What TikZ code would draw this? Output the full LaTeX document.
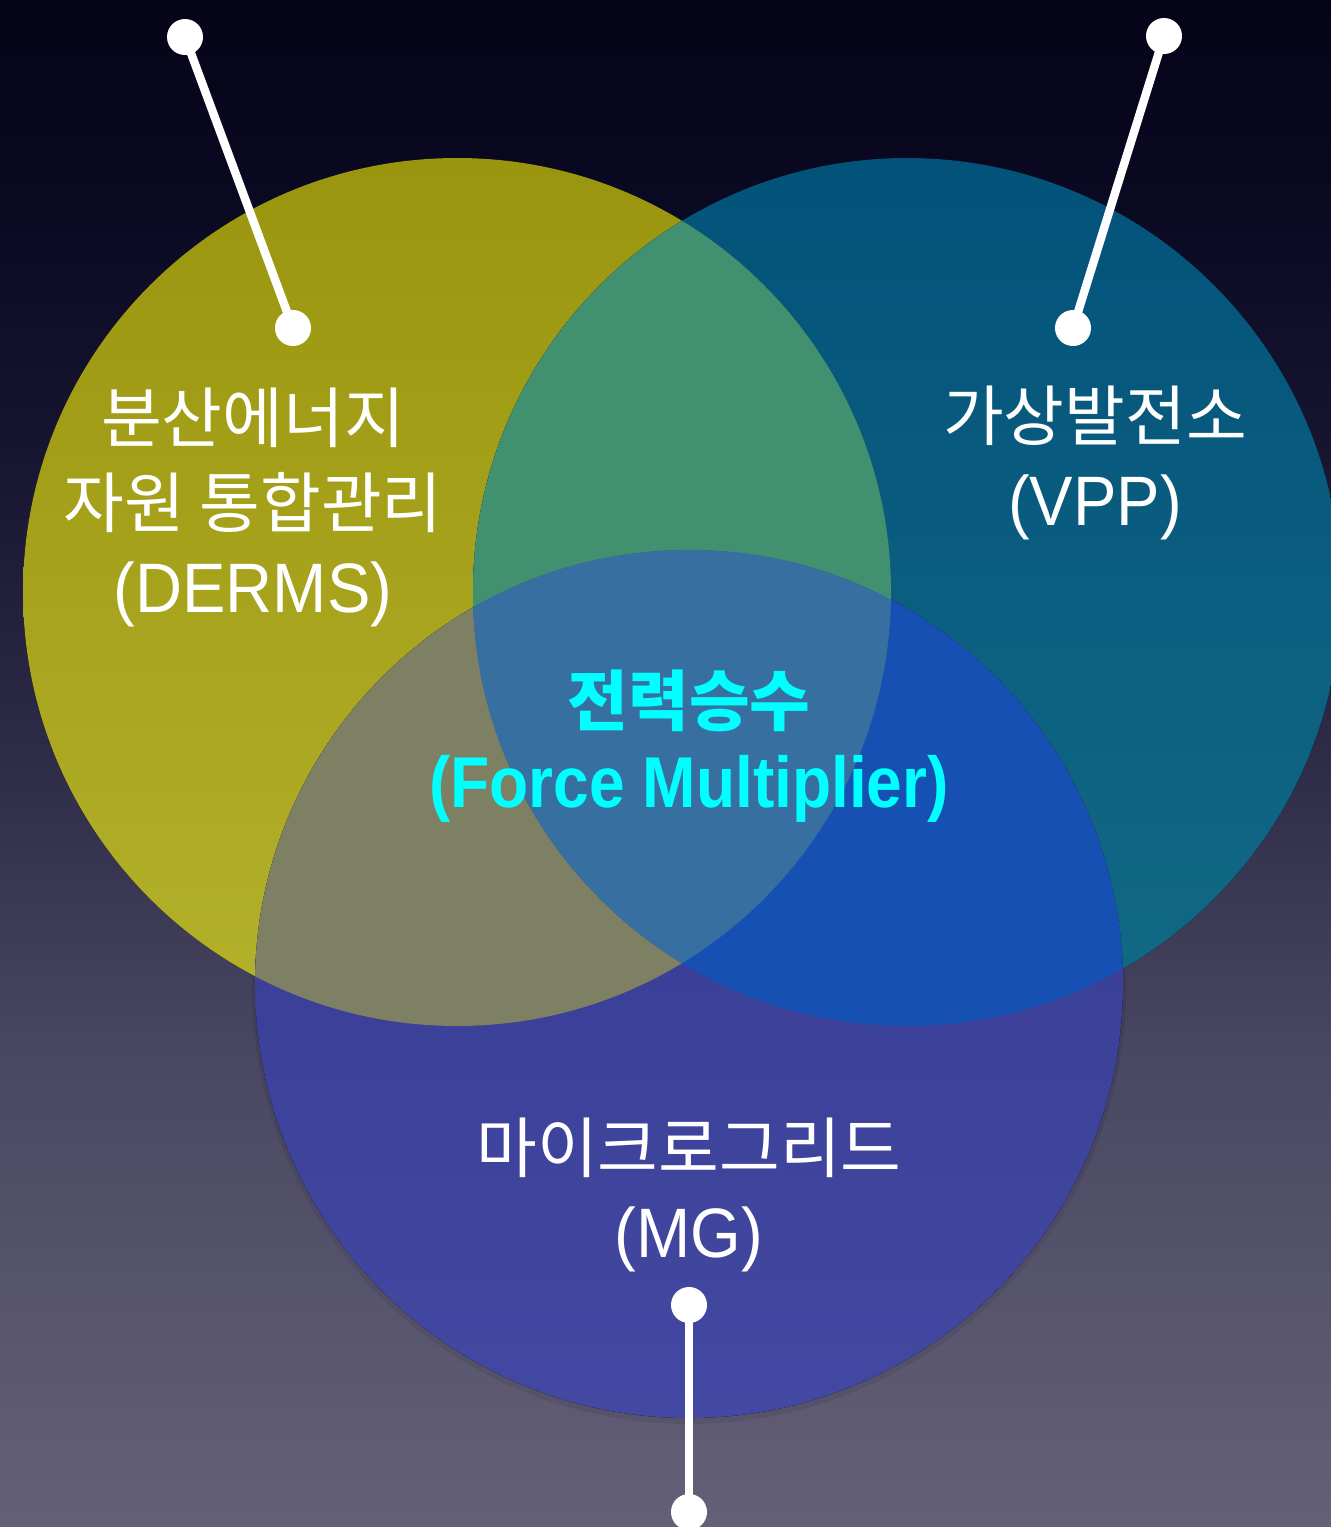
\documentclass[tikz,border=0pt]{standalone}
\usepackage{fontspec}
\newfontfamily\kr{Noto Sans CJK KR}
\newfontfamily\lat[FakeStretch=0.93]{Liberation Sans}
\newfontfamily\latb[FakeStretch=0.89]{Liberation Sans Bold}
\definecolor{bgtop}{HTML}{050418}
\definecolor{bgm1}{HTML}{0A0922}
\definecolor{bgm2}{HTML}{171530}
\definecolor{bgm3}{HTML}{2E2C48}
\definecolor{bgm4}{HTML}{4A4862}
\definecolor{bgbot}{HTML}{646078}
\definecolor{ytop}{HTML}{9A950F}
\definecolor{ybot}{HTML}{B4B12A}
\definecolor{ttop}{HTML}{03527A}
\definecolor{tbot}{HTML}{126A85}
\definecolor{btop}{HTML}{33368E}
\definecolor{bbot}{HTML}{4349A2}
\definecolor{yt}{HTML}{41906F}
\definecolor{yb}{HTML}{7E8063}
\definecolor{tb}{HTML}{1550B2}
\definecolor{ytb}{HTML}{3770A0}
\definecolor{accent}{HTML}{00FFFF}
\pgfdeclareverticalshading{bgshade}{100bp}{color(0bp)=(bgbot); color(25bp)=(bgbot); color(40bp)=(bgm4); color(50bp)=(bgm3); color(60bp)=(bgm2); color(68.5bp)=(bgm1); color(75bp)=(bgtop); color(100bp)=(bgtop)}
\tikzset{
  dot/.style={circle, fill=white, minimum size=18pt, inner sep=0pt},
  conn/.style={draw=white, line width=4.2pt},
  wtxt/.style={text=white, anchor=base, inner sep=0pt},
  ctxt/.style={text=accent, anchor=base, inner sep=0pt},
  krtxt/.style={font=\kr\fontsize{33pt}{38pt}\selectfont},
  lattxt/.style={font=\lat\fontsize{35pt}{40pt}\selectfont},
}
\begin{document}
\begin{tikzpicture}[x=0.5pt,y=0.5pt]
\useasboundingbox (0,0) rectangle (1331,-1527);
\shade[shading=bgshade] (0,0) rectangle (1331,-1527);
% circles
\coordinate (Y) at (457,-592);
\coordinate (T) at (907,-592);
\coordinate (B) at (689,-984);
\fill[black, opacity=0.07] (B) ++(0,-3) circle[radius=218.5pt];
\fill[top color=ytop, bottom color=ybot] (Y) circle[radius=217pt];
\fill[top color=ttop, bottom color=tbot] (T) circle[radius=217pt];
\fill[top color=btop, bottom color=bbot] (B) circle[radius=217pt];
% overlaps
\begin{scope}
  \clip (Y) circle[radius=217pt];
  \fill[yt] (T) circle[radius=217pt];
  \fill[yb] (B) circle[radius=217pt];
\end{scope}
\begin{scope}
  \clip (T) circle[radius=217pt];
  \fill[tb] (B) circle[radius=217pt];
\end{scope}
\begin{scope}
  \clip (Y) circle[radius=217pt];
  \clip (T) circle[radius=217pt];
  \fill[ytb] (B) circle[radius=217pt];
\end{scope}
% connectors
\node[dot] (d1a) at (185,-37) {};
\node[dot] (d1b) at (293,-328) {};
\node[dot] (d2a) at (1164,-36) {};
\node[dot] (d2b) at (1073,-328) {};
\node[dot] (d3a) at (689,-1305) {};
\node[dot] (d3b) at (689,-1512) {};
\draw[conn] (d1a.center) -- (d1b.center);
\draw[conn] (d2a.center) -- (d2b.center);
\draw[conn] (d3a.center) -- (d3b.center);
% labels
\node[wtxt, krtxt] (derms1) at (253,-442) {분산에너지};
\node[wtxt, krtxt] (derms2) at (253,-527) {자원 통합관리};
\node[wtxt, lattxt] (derms3) at (253,-612) {(DERMS)};
\node[wtxt, krtxt] (vpp1) at (1095,-440) {가상발전소};
\node[wtxt, lattxt] (vpp2) at (1095,-525) {(VPP)};
\node[ctxt, font=\kr\bfseries\fontsize{33pt}{38pt}\selectfont] (fm1) at (689,-725) {전력승수};
\node[ctxt, font=\latb\fontsize{36pt}{40pt}\selectfont] (fm2) at (689,-807) {(Force Multiplier)};
\node[wtxt, krtxt] (mg1) at (689,-1172) {마이크로그리드};
\node[wtxt, lattxt] (mg2) at (689,-1257) {(MG)};
\end{tikzpicture}
\end{document}
